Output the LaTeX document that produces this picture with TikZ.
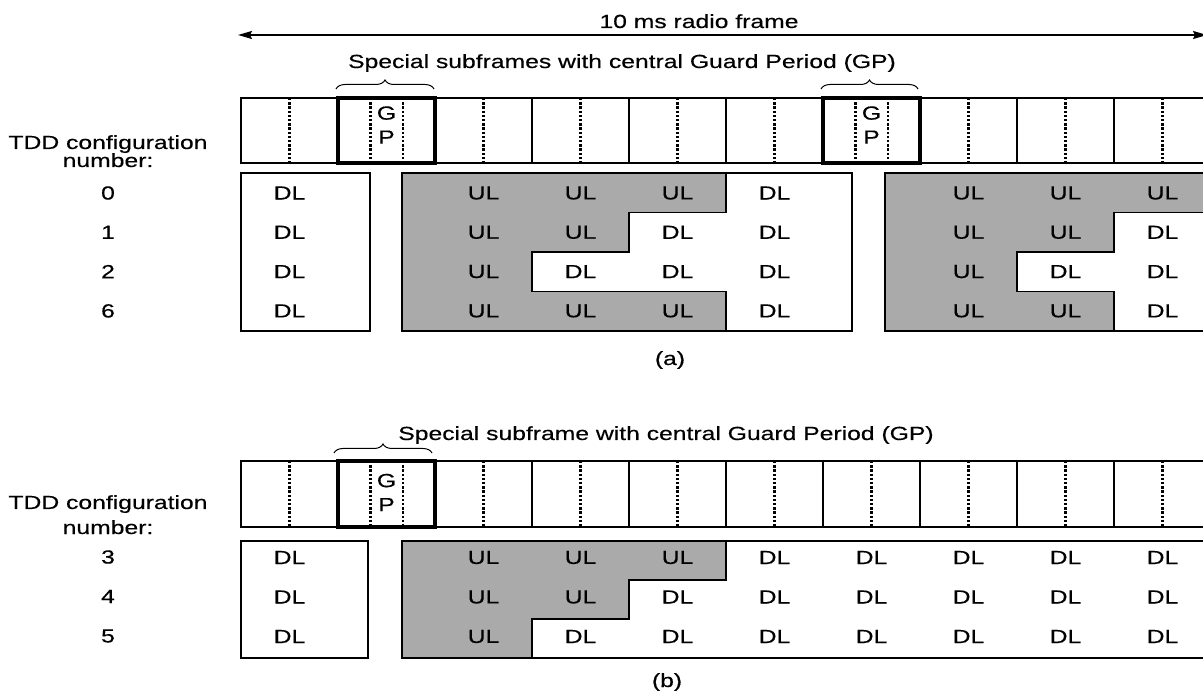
\documentclass[tikz,border=0pt]{standalone}
\usepackage{fontspec}
\setmainfont[FakeStretch=1.3,FakeBold=0.4]{Liberation Sans}
\usetikzlibrary{arrows.meta,decorations.pathreplacing}
\definecolor{grigioul}{RGB}{170,170,170}

\begin{document}
\begin{tikzpicture}[x=1pt, y=-1pt,
    testo/.style={inner sep=0pt, font=\fontsize{19}{22}\selectfont},
    gptesto/.style={inner sep=0pt, align=center, font=\fontsize{19}{24}\selectfont},
    sottile/.style={line width=1.6pt},
    spesso/.style={line width=3.4pt},
    punteggiata/.style={line width=2.4pt, dash pattern=on 2.4pt off 1.8pt},
    ulzona/.style={fill=grigioul, draw=black, line width=1.6pt},
    graffa/.style={decorate, decoration={brace, amplitude=9pt}, line width=1pt}]

    \useasboundingbox (0,0) rectangle (1203,692);
    \clip (0,0) rectangle (1203,692);

    % Freccia del frame radio
    \coordinate (inizio) at (238,35);
    \coordinate (fine) at (1207,35);
    \draw[{Stealth[length=14pt,width=8pt,inset=2pt]}-{Stealth[length=14pt,width=8pt,inset=2pt]}, line width=1.8pt] (inizio) -- (fine);
    \node[testo, anchor=base] (radio) at (699,28) {10 ms radio frame};

    % ---------------- (a) ----------------
    \node[testo, anchor=base] (speciali-a) at (622,68)
        {Special subframes with central Guard Period (GP)};
    \coordinate (ga1s) at (336,89);
    \coordinate (ga1e) at (434,89);
    \coordinate (ga6s) at (821,89);
    \coordinate (ga6e) at (918,89);
    \draw[graffa] (ga1s) -- (ga1e);
    \draw[graffa] (ga6s) -- (ga6e);

    % Sottoframe
    \draw[sottile] (241,98) rectangle (1211,163);
    \foreach \i in {1,...,9}
        \draw[sottile] (241+97*\i,98) -- (241+97*\i,163);
    \foreach \i in {0,2,3,4,5,7,8,9}
        \draw[punteggiata] (289.5+97*\i,98) -- (289.5+97*\i,163);
    \foreach \i in {1,6} {
        \draw[punteggiata] (273.3+97*\i,98) -- (273.3+97*\i,163);
        \draw[punteggiata] (305.7+97*\i,98) -- (305.7+97*\i,163);
        \draw[spesso] (241+97*\i,98) rectangle (338+97*\i,163);
        \node[gptesto] (gp-a-\i) at (289.5+97*\i,125) {G\\P};
    }

    % Etichette configurazione
    \node[testo, anchor=base] (tdd-a) at (108,149) {TDD configuration};
    \node[testo, anchor=base] (num-a) at (108,167) {number:};

    % Blocchi DL / UL
    \draw[sottile] (241,173) rectangle (370,331);
    \draw[sottile] (402,173) rectangle (852,331);
    \draw[sottile] (885,173) rectangle (1211,331);
    \draw[ulzona] (402,173) -- (726,173) -- (726,212.5) -- (629,212.5)
        -- (629,252) -- (532,252) -- (532,291.5) -- (726,291.5)
        -- (726,331) -- (402,331) -- cycle;
    \draw[ulzona] (885,173) -- (1211,173) -- (1211,212.5) -- (1114,212.5)
        -- (1114,252) -- (1017,252) -- (1017,291.5) -- (1114,291.5)
        -- (1114,331) -- (885,331) -- cycle;

    \foreach \n/\seq [count=\r from 0] in
        {0/{D,S,U,U,U,D,S,U,U,U}, 1/{D,S,U,U,D,D,S,U,U,D},
         2/{D,S,U,D,D,D,S,U,D,D}, 6/{D,S,U,U,U,D,S,U,U,D}} {
        \node[testo] (cfg-\n) at (108,193+39.3*\r) {\n};
        \foreach \s [count=\c from 0] in \seq {
            \if\s S\else
                \node[testo] (cella-\n-\c) at (289.5+97*\c,193+39.3*\r) {\s L};
            \fi
        }
    }

    \node[testo, anchor=base] (didascalia-a) at (670,365) {(a)};

    % ---------------- (b) ----------------
    \node[testo, anchor=base] (speciale-b) at (666,440)
        {Special subframe with central Guard Period (GP)};
    \coordinate (gb1s) at (334,453);
    \coordinate (gb1e) at (432,453);
    \draw[graffa] (gb1s) -- (gb1e);

    % Sottoframe
    \draw[sottile] (241,461) rectangle (1211,527);
    \foreach \i in {1,...,9}
        \draw[sottile] (241+97*\i,461) -- (241+97*\i,527);
    \foreach \i in {0,2,3,4,5,6,7,8,9}
        \draw[punteggiata] (289.5+97*\i,461) -- (289.5+97*\i,527);
    \draw[punteggiata] (370.3,461) -- (370.3,527);
    \draw[punteggiata] (402.7,461) -- (402.7,527);
    \draw[spesso] (338,461) rectangle (435,527);
    \node[gptesto] (gp-b-1) at (386.5,492.5) {G\\P};

    % Etichette configurazione
    \node[testo, anchor=base] (tdd-b) at (108,509) {TDD configuration};
    \node[testo, anchor=base] (num-b) at (108,534) {number:};

    % Blocchi DL / UL
    \draw[sottile] (241,541) rectangle (368,658);
    \draw[sottile] (402,541) rectangle (1215,658);
    \draw[ulzona] (402,541) -- (726,541) -- (726,580) -- (629,580)
        -- (629,619) -- (532,619) -- (532,658) -- (402,658) -- cycle;

    \foreach \n/\seq [count=\r from 0] in
        {3/{D,S,U,U,U,D,D,D,D,D}, 4/{D,S,U,U,D,D,D,D,D,D},
         5/{D,S,U,D,D,D,D,D,D,D}} {
        \node[testo] (cfg-\n) at (108,557+39.5*\r) {\n};
        \foreach \s [count=\c from 0] in \seq {
            \if\s S\else
                \node[testo] (cella-\n-\c) at (289.5+97*\c,557.5+39.5*\r) {\s L};
            \fi
        }
    }

    \node[testo, anchor=base] (didascalia-b) at (667,687) {(b)};
\end{tikzpicture}
\end{document}
